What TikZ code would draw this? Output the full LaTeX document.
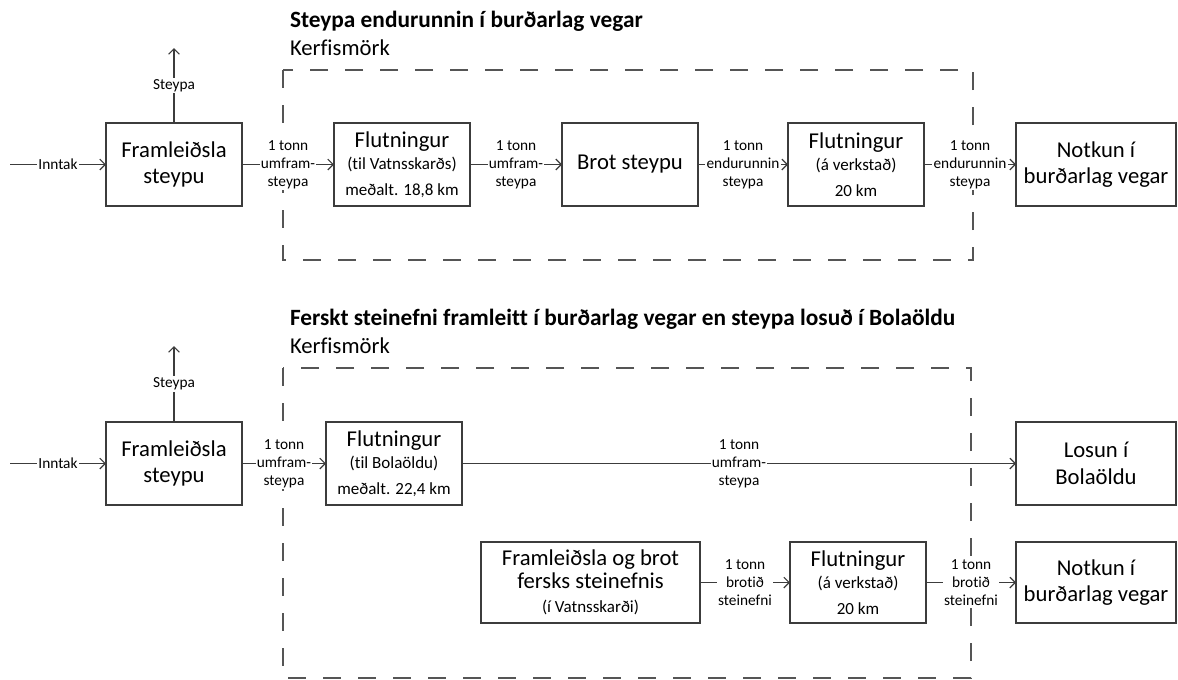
\documentclass[tikz,border=0pt]{standalone}
\usepackage{fontspec}
\setmainfont{Carlito}[Ligatures={NoCommon}]
\usetikzlibrary{arrows.meta}

\definecolor{cline}{RGB}{60,60,60}
\definecolor{cdash}{RGB}{85,85,85}

\tikzset{
  procbox/.style={draw=cline, line width=1.1pt, fill=white, align=center,
    minimum width=102pt, minimum height=62.25pt,
    font=\fontsize{17}{20}\selectfont},
  flow/.style={draw=cline, line width=0.9pt,
    -{Straight Barb[length=4pt,width=8pt]}},
  flowlbl/.style={fill=white, align=center, inner sep=1pt,
    font=\fontsize{11.5}{13.5}\selectfont},
  border/.style={draw=cdash, line width=1.5pt, dash pattern=on 13.5pt off 12.75pt},
  heading/.style={anchor=base west, font=\bfseries\fontsize{17.5}{20}\selectfont},
  subheading/.style={anchor=base west, font=\fontsize{17}{20}\selectfont},
}
\newcommand{\smalltxt}[1]{{\fontsize{12.75}{15}\selectfont #1}}

\begin{document}
\begin{tikzpicture}[y=0.75pt, x=0.75pt, yscale=-1, inner sep=0pt, outer sep=0pt]
\useasboundingbox (0,0) rectangle (1178,679);

% kerfismork
\draw[border] (283,70) rectangle (973,260);
\draw[border] (283,368) rectangle (971,678);

% efri mynd
\node[heading] (titillA) at (290,27) {Steypa endurunnin í burðarlag vegar};
\node[subheading] (kerfA) at (290,55) {Kerfismörk};

\node[procbox] (framlA) at (174,164.5) {Framleiðsla\\steypu};
\node[procbox] (flutnA) at (402,164.5)
  {Flutningur\\[-3pt]\smalltxt{(til Vatnsskarðs)}\\[-1pt]\smalltxt{meðalt. 18,8 km}};
\node[procbox] (brotA) at (630,164.5) {Brot steypu};
\node[procbox] (flutnB) at (856,164.5)
  {Flutningur\\[-3pt]\smalltxt{(á verkstað)}\\[-1pt]\smalltxt{20 km}};
\node[procbox, minimum width=120pt] (notkA) at (1096,164.5) {Notkun í\\burðarlag vegar};

\coordinate (inntakA) at (10,164.5);
\coordinate (steypaA) at (174,48);

\draw[flow] (inntakA) -- node[flowlbl] (lblinnA) {Inntak} (framlA);
\draw[flow] (framlA) -- node[flowlbl] (lblstA) {Steypa} (steypaA);
\draw[flow] (framlA) -- node[flowlbl] (lblA1) {1 tonn\\umfram-\\steypa} (flutnA);
\draw[flow] (flutnA) -- node[flowlbl] (lblA2) {1 tonn\\umfram-\\steypa} (brotA);
\draw[flow] (brotA) -- node[flowlbl] (lblA3) {1 tonn\\endurunnin\\steypa} (flutnB);
\draw[flow] (flutnB) -- node[flowlbl] (lblA4) {1 tonn\\endurunnin\\steypa} (notkA);

% nedri mynd
\node[heading] (titillB) at (290,325)
  {Ferskt steinefni framleitt í burðarlag vegar en steypa losuð í Bolaöldu};
\node[subheading] (kerfB) at (290,353) {Kerfismörk};

\node[procbox] (framlB) at (174,463.5) {Framleiðsla\\steypu};
\node[procbox] (flutnC) at (394,463.5)
  {Flutningur\\[-3pt]\smalltxt{(til Bolaöldu)}\\[-1pt]\smalltxt{meðalt. 22,4 km}};
\node[procbox, minimum width=120pt] (losun) at (1096,463.5) {Losun í\\Bolaöldu};

\node[procbox, minimum width=164.25pt, minimum height=60.75pt] (framlC) at (590.5,582.5)
  {Framleiðsla og brot\\[-3pt]fersks steinefnis\\[-2pt]\smalltxt{(í Vatnsskarði)}};
\node[procbox, minimum height=60.75pt] (flutnD) at (858,582.5)
  {Flutningur\\[-3pt]\smalltxt{(á verkstað)}\\[-1pt]\smalltxt{20 km}};
\node[procbox, minimum width=120pt, minimum height=60.75pt] (notkB) at (1096,582.5)
  {Notkun í\\burðarlag vegar};

\coordinate (inntakB) at (10,463.5);
\coordinate (steypaB) at (174,346);

\draw[flow] (inntakB) -- node[flowlbl] (lblinnB) {Inntak} (framlB);
\draw[flow] (framlB) -- node[flowlbl] (lblstB) {Steypa} (steypaB);
\draw[flow] (framlB) -- node[flowlbl] (lblB1) {1 tonn\\umfram-\\steypa} (flutnC);
\draw[flow] (flutnC) -- node[flowlbl] (lblB2) {1 tonn\\umfram-\\steypa} (losun);
\draw[flow] (framlC) -- node[flowlbl] (lblB3) {1 tonn\\brotið\\steinefni} (flutnD);
\draw[flow] (flutnD) -- node[flowlbl] (lblB4) {1 tonn\\brotið\\steinefni} (notkB);

\end{tikzpicture}
\end{document}
